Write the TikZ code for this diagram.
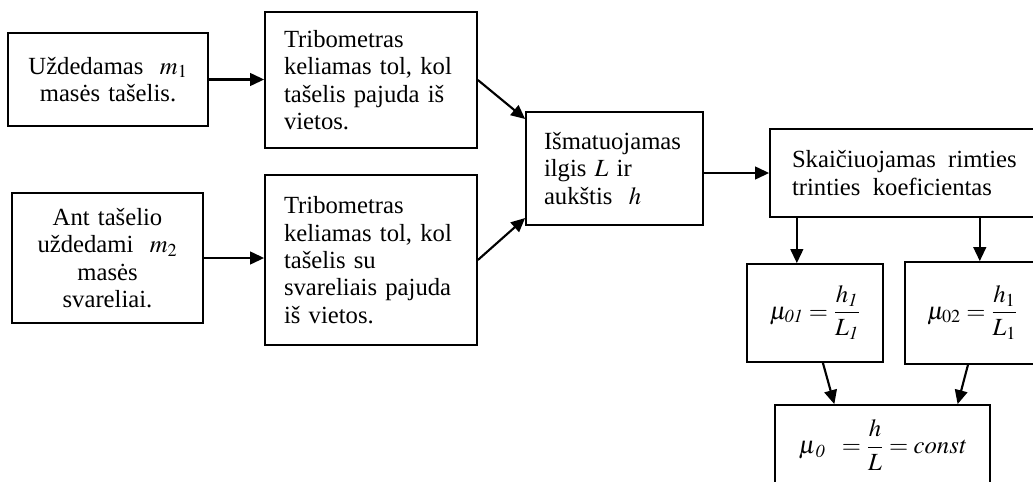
\documentclass[tikz,border=0pt]{standalone}
\usepackage{amsmath}
\usepackage{mathptmx}
\usepackage[no-math]{fontspec}
\setmainfont{Liberation Serif}
\usetikzlibrary{arrows.meta}
\tikzset{every picture/.style={line width=0.75pt}}
\tikzset{
  blok/.style={draw, line width=1.3pt, inner xsep=14.25pt, inner ysep=0pt, align=left, font=\fontsize{18.5}{20.5}\selectfont},
  formule/.style={draw, line width=1.3pt, inner sep=0pt, font=\fontsize{18.5}{20.5}\selectfont},
  rodykle/.style={line width=1.6pt, -{Triangle[length=10.5pt,width=9.5pt]}}
}

\begin{document}
\begin{tikzpicture}[x=0.75pt,y=0.75pt,yscale=-1,xscale=1]
\useasboundingbox (0,0) rectangle (1033,482);

%Shape: Rectangle [masA]
\node[blok, align=center, inner xsep=15pt, text width=120pt, minimum height=69.75pt] (masA) at (108,79.5) {Uždedamas~ $m_1$\\ masės tašelis.};
%Shape: Rectangle [masB]
\node[blok, align=center, inner xsep=15pt, text width=113pt, minimum height=97.5pt] (masB) at (107.5,258) {Ant tašelio\\ uždedami~ $m_2$\\ masės\\ svareliai.};
%Shape: Rectangle [tribA]
\node[blok, text width=130.5pt, minimum height=102pt] (tribA) at (371,80) {Tribometras\\ keliamas tol, kol\\ tašelis pajuda iš\\ vietos.};
%Shape: Rectangle [tribB]
\node[blok, text width=130.5pt, minimum height=127.5pt] (tribB) at (371,260) {Tribometras\\ keliamas tol, kol\\ tašelis su\\ svareliais pajuda\\ iš vietos.};
%Shape: Rectangle [matav]
\node[blok, inner xsep=13.5pt, text width=105.75pt, minimum height=84.75pt] (matav) at (614.5,168.5) {Išmatuojamas\\ ilgis $L$ ir\\ aukštis~ $h$};
%Shape: Rectangle [skaic]
\node[blok, inner xsep=16.5pt, text width=173.25pt, minimum height=66pt] (skaic) at (907.5,173) {Skaičiuojamas\ \,rimties\\ trinties\ \,koeficientas};
%Shape: Rectangle [mu1]
\node[formule, minimum width=102pt, minimum height=73.5pt] (mu1) at (815,313) {$\mu_{\mathit{01}} = \dfrac{h_{\mathit{1}}\mathstrut}{L_{\mathit{1}}\mathstrut}$};
%Shape: Rectangle [mu2]
\node[formule, minimum width=101.25pt, minimum height=76.5pt] (mu2) at (972.5,313) {$\mu_{02} = \dfrac{h_1\mathstrut}{L_1\mathstrut}$};
%Shape: Rectangle [mu0]
\node[formule, minimum width=161.25pt, minimum height=63.75pt] (mu0) at (882.5,447.5) {$\mu_{\,\mathit{0}}\;\; = \dfrac{h\mathstrut}{L\mathstrut} = \mathit{const}$};

%Straight Lines
\draw[rodykle] (masA.east) -- (masA.east -| tribA.west);
\draw[rodykle] (masB.east) -- (masB.east -| tribB.west);
\draw[rodykle] (tribA.east) -- (matav.151);
\draw[rodykle] (tribB.east) -- (matav.209);
\draw[rodykle] (skaic.west -| matav.east) -- (skaic.west);
\draw[rodykle] (mu1.110 |- skaic.south) -- (mu1.110);
\draw[rodykle] (mu2.82 |- skaic.south) -- (mu2.82);
\draw[rodykle] (mu1.-81) -- (mu0.138);
\draw[rodykle] (mu2.-95) -- (mu0.30);

\end{tikzpicture}
\end{document}
